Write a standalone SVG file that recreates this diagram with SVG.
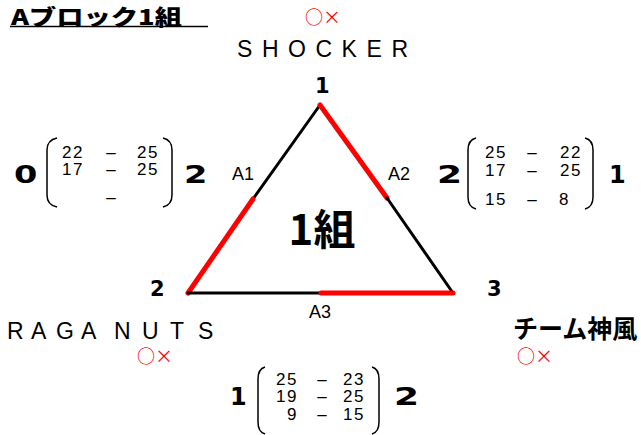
<svg xmlns="http://www.w3.org/2000/svg" width="641" height="435" viewBox="0 0 641 435">
<style>
.title{font-family:"Noto Sans CJK JP",sans-serif;font-weight:900;font-size:21.5px;fill:#000}
.team{font-family:"Liberation Sans",Arial,sans-serif;font-size:23px;fill:#000}
.teamjp{font-family:"Noto Sans CJK JP",sans-serif;font-weight:bold;font-size:25px;fill:#000}
.mark{font-family:"Noto Sans CJK JP",sans-serif;font-size:18px;fill:#ff0000}
.vtx{font-family:"DejaVu Sans",sans-serif;font-weight:bold;font-size:21px;fill:#000}
.big{font-family:"DejaVu Sans",sans-serif;font-weight:bold;font-size:24px;fill:#000}
.lbl{font-family:"Liberation Sans",Arial,sans-serif;font-size:18px;fill:#000}
.num{font-family:"Liberation Sans",Arial,sans-serif;font-size:17px;fill:#000;letter-spacing:1.5px}
.dash{font-family:"Liberation Sans",Arial,sans-serif;font-size:17px;fill:#000;text-anchor:middle}
.center{font-family:"Noto Sans CJK JP",sans-serif;font-weight:bold;font-size:42px;fill:#000;text-anchor:middle}
.br{fill:none;stroke:#000;stroke-width:1.5}
.blk{stroke:#000;stroke-width:3;stroke-linecap:round}
.red{stroke:#ff0000;stroke-width:5;stroke-linecap:round}
</style>

<g id="title">
<text class="title" x="11" y="25" textLength="171" lengthAdjust="spacingAndGlyphs">Aブロック1組</text>
<line x1="10" y1="26.5" x2="208" y2="26.5" stroke="#000" stroke-width="1.5"/>
</g>

<g id="connectors">
<line class="blk" x1="320" y1="105" x2="253" y2="199"/>
<line class="red" x1="253" y1="199" x2="188" y2="293"/>
<line class="red" x1="320" y1="105" x2="387" y2="198"/>
<line class="blk" x1="387" y1="198" x2="453" y2="293"/>
<line class="blk" x1="188" y1="293" x2="321" y2="293"/>
<line class="red" x1="321" y1="293" x2="453" y2="293"/>
</g>

<g id="center-label">
<text class="center" x="322" y="245">1組</text>
</g>

<g id="edge-labels">
<text class="lbl" x="232" y="180">A1</text>
<text class="lbl" x="388" y="180">A2</text>
<text class="lbl" x="309" y="318">A3</text>
</g>

<g id="node-1">
<text class="mark" x="305" y="24">○×</text>
<text class="team" x="237" y="57" textLength="171" lengthAdjust="spacing">SHOCKER</text>
<text class="vtx" x="315" y="93">1</text>
</g>

<g id="node-2">
<text class="vtx" x="150" y="296">2</text>
<text class="team" x="7 31 56 81 100 114 142 170 198" y="339">RAGA NUTS</text>
<text class="mark" x="137" y="363">○×</text>
</g>

<g id="node-3">
<text class="vtx" x="487" y="296">3</text>
<text class="teamjp" x="513" y="338">チーム神風</text>
<text class="mark" x="517" y="363">○×</text>
</g>

<g id="score-A1">
<text class="big" transform="translate(14,183) scale(1.4,1)">0</text>
<path class="br" d="M57,138 Q47,140 47,150 L47,195 Q47,205 57,207"/>
<text class="num" x="84" y="158" text-anchor="end">22</text>
<text class="dash" x="111" y="158">–</text>
<text class="num" x="159" y="158" text-anchor="end">25</text>
<text class="num" x="84" y="175" text-anchor="end">17</text>
<text class="dash" x="111" y="175">–</text>
<text class="num" x="159" y="175" text-anchor="end">25</text>
<text class="dash" x="111" y="203">–</text>
<path class="br" d="M163,138 Q172,140 172,150 L172,195 Q172,205 163,207"/>
<text class="big" transform="translate(184,183) scale(1.4,1)">2</text>
</g>

<g id="score-A2">
<text class="big" transform="translate(437,183) scale(1.5,1)">2</text>
<path class="br" d="M476,138 Q468,140 468,150 L468,197 Q468,207 476,209"/>
<text class="num" x="507" y="158" text-anchor="end">25</text>
<text class="dash" x="532" y="158">–</text>
<text class="num" x="582" y="158" text-anchor="end">22</text>
<text class="num" x="507" y="176" text-anchor="end">17</text>
<text class="dash" x="532" y="176">–</text>
<text class="num" x="582" y="176" text-anchor="end">25</text>
<text class="num" x="507" y="205" text-anchor="end">15</text>
<text class="dash" x="532" y="205">–</text>
<text class="num" x="570" y="205" text-anchor="end">8</text>
<path class="br" d="M585,138 Q593,140 593,150 L593,197 Q593,207 585,209"/>
<text class="big" x="609" y="183">1</text>
</g>

<g id="score-A3">
<text class="big" x="230" y="405">1</text>
<path class="br" d="M265,367 Q258,369 258,379 L258,422 Q258,432 265,434"/>
<text class="num" x="298" y="385" text-anchor="end">25</text>
<text class="dash" x="322" y="385">–</text>
<text class="num" x="365" y="385" text-anchor="end">23</text>
<text class="num" x="298" y="402" text-anchor="end">19</text>
<text class="dash" x="322" y="402">–</text>
<text class="num" x="365" y="402" text-anchor="end">25</text>
<text class="num" x="298" y="420" text-anchor="end">9</text>
<text class="dash" x="322" y="420">–</text>
<text class="num" x="365" y="420" text-anchor="end">15</text>
<path class="br" d="M372,367 Q379,369 379,379 L379,422 Q379,432 372,434"/>
<text class="big" transform="translate(394,405) scale(1.5,1)">2</text>
</g>
</svg>
